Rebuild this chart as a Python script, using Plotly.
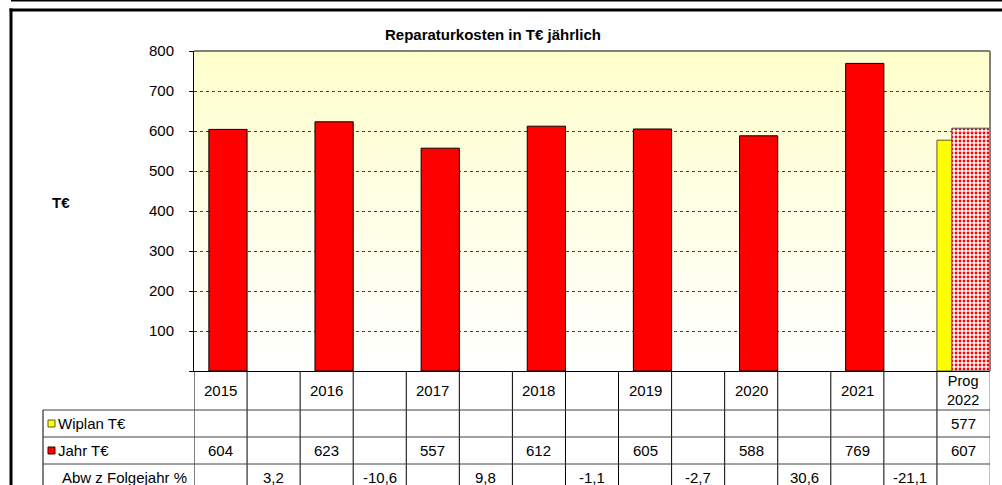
import plotly.graph_objects as go

# ---- data -------------------------------------------------------------
columns = ["2015", "", "2016", "", "2017", "", "2018", "", "2019", "", "2020", "",
           "2021", "", "Prog<br>2022"]
jahr = [604, None, 623, None, 557, None, 612, None, 605, None, 588, None, 769, None, 607]
wiplan = [None, None, None, None, None, None, None, None, None, None, None, None,
          None, None, 577]
abw = [None, 3.2, None, -10.6, None, 9.8, None, -1.1, None, -2.7, None, 30.6, None,
       -21.1, None]
y_ticks = [0, 100, 200, 300, 400, 500, 600, 700, 800]

title_text = "Reparaturkosten in T€ jährlich"
row_labels = ["Wiplan T€", "Jahr T€", "Abw z Folgejahr %"]

# ---- geometry helpers (pixels -> paper) -------------------------------
W, H = 1002, 485
L, R, T, B = 194, 990, 51, 371
PW, PH = R - L, B - T


def px(x):
    return (x - L) / PW


def py(y):
    return (B - y) / PH


FONT = "Arial, 'Liberation Sans', sans-serif"
n = len(columns)
xs = list(range(n))
forecast = [c.startswith("Prog") for c in columns]
jahr_actual = [None if f else v for v, f in zip(jahr, forecast)]
jahr_forecast = [v if f else None for v, f in zip(jahr, forecast)]


def fmt(v):
    if v is None:
        return ""
    if isinstance(v, float):
        return f"{v:.1f}".replace(".", ",")
    return str(v)


fig = go.Figure()

# planned value (partly hidden behind the actual bar)
fig.add_trace(go.Bar(
    x=xs, y=wiplan, name="Wiplan T€",
    width=0.72, offset=-0.5,
    marker=dict(color="#FFFF00", line=dict(color="#5a5a20", width=1)),
))

# actual values
fig.add_trace(go.Bar(
    x=xs, y=jahr_actual, name="Jahr T€",
    width=0.72, offset=-0.22,
    marker=dict(color="#FF0000", line=dict(color="#000000", width=1)),
))

# forecast value, dotted fill
fig.add_trace(go.Bar(
    x=xs, y=jahr_forecast, name="Prog T€",
    width=0.72, offset=-0.22,
    marker=dict(
        color="#FFFFFF",
        line=dict(color="#555555", width=1),
        pattern=dict(shape=".", fgcolor="#FF0000", bgcolor="#FFFFFF",
                     size=4, solidity=0.4, fillmode="replace"),
    ),
))

shapes = []

# plot background: light yellow fading to white
bands = 64
for k in range(bands):
    t = k / (bands - 1)
    b_val = int(round(255 - 51 * t))
    shapes.append(dict(type="rect", xref="paper", yref="paper", layer="below",
                       x0=0, x1=1, y0=k / bands, y1=(k + 1) / bands,
                       fillcolor=f"rgb(255,255,{b_val})", line=dict(width=0)))

# grey frame on top and right of plot area
shapes.append(dict(type="line", xref="paper", yref="paper", x0=0, x1=1, y0=1, y1=1,
                   line=dict(color="#808080", width=2)))
shapes.append(dict(type="line", xref="paper", yref="paper", x0=1, x1=1, y0=0, y1=1,
                   line=dict(color="#808080", width=2)))


def bar_rect(x0, x1, y0, y1):
    # solid black strip given in page pixels
    return dict(type="rect", xref="paper", yref="paper",
                x0=px(x0), x1=px(x1), y0=py(y1), y1=py(y0),
                fillcolor="#000000", line=dict(width=0))


# outer chart frame (left and top edges) and top rule
shapes.append(bar_rect(9.5, 12.5, 8.5, H))
shapes.append(bar_rect(9.5, W, 8.5, 11.5))
shapes.append(bar_rect(11, W, 0, 1.5))

# ---- data table under the chart -------------------------------------
hdr_bottom = 410
row_tops = [410, 437, 464]
row_h = 27
table_left = 43

# column separators
for i in range(n + 1):
    shapes.append(dict(type="line", xref="x", yref="paper",
                       x0=i - 0.5, x1=i - 0.5, y0=py(B), y1=py(H),
                       line=dict(color="#000000" if i < n else "#808080", width=1)))
# row label column edge
shapes.append(dict(type="line", xref="paper", yref="paper",
                   x0=px(table_left), x1=px(table_left), y0=py(hdr_bottom), y1=py(H),
                   line=dict(color="#000000", width=1)))
# horizontal rules
for yy in [hdr_bottom, row_tops[1], row_tops[2]]:
    shapes.append(dict(type="line", xref="paper", yref="paper",
                       x0=px(table_left), x1=1, y0=py(yy), y1=py(yy),
                       line=dict(color="#404040", width=1)))


def note(text, x, y, xref="paper", xanchor="center", size=15):
    return dict(text=text, xref=xref, yref="paper", x=x, y=y, showarrow=False,
                xanchor=xanchor, yanchor="middle",
                font=dict(family=FONT, size=size, color="#000000"))


annotations = [
    note(f"<b>{title_text}</b>", px(493), py(35)),
    note("<b>T€</b>", px(61), py(202)),
]

# header labels
for i, c in enumerate(columns):
    if c:
        annotations.append(note(c, i, py(390.5), xref="x",
                                size=15 if "<br>" not in c else 14.5))

# row labels with legend keys
key_colors = ["#FFFF00", "#FF0000", None]
key_lines = ["#5a5a20", "#400000", None]
for r, lab in enumerate(row_labels):
    yc = row_tops[r] + row_h / 2
    if key_colors[r]:
        shapes.append(dict(type="rect", xref="paper", yref="paper",
                           x0=px(48), x1=px(55), y0=py(yc - 3.5), y1=py(yc + 3.5),
                           fillcolor=key_colors[r], line=dict(color=key_lines[r], width=1)))
        xl = 56
    else:
        xl = 60
    annotations.append(note(lab, px(xl), py(yc), xanchor="left"))

# cell values
for r, series in enumerate([wiplan, jahr, abw]):
    yc = row_tops[r] + row_h / 2
    for i, v in enumerate(series):
        if v is not None:
            annotations.append(note(fmt(v), i, py(yc), xref="x"))

fig.update_layout(
    width=W, height=H,
    margin=dict(l=L, r=W - R, t=T, b=H - B, pad=0),
    paper_bgcolor="#FFFFFF",
    plot_bgcolor="#FFFFFF",
    barmode="overlay",
    showlegend=False,
    font=dict(family=FONT, size=15, color="#000000"),
    shapes=shapes,
    annotations=annotations,
    xaxis=dict(range=[-0.5, n - 0.5], showticklabels=False, ticks="", showgrid=False,
               zeroline=False, showline=True, linecolor="#000000", linewidth=1,
               fixedrange=True),
    yaxis=dict(range=[0, 800], tickvals=y_ticks,
               ticktext=["" if v == 0 else str(v) for v in y_ticks],
               ticks="outside", ticklen=4, tickcolor="#000000",
               showline=True, linecolor="#000000", linewidth=1,
               showgrid=True, gridcolor="#404040", griddash="dot", gridwidth=1,
               zeroline=False, ticklabelstandoff=12,
               tickfont=dict(family=FONT, size=15, color="#000000"),
               fixedrange=True),
)

fig.write_html("out.html")
